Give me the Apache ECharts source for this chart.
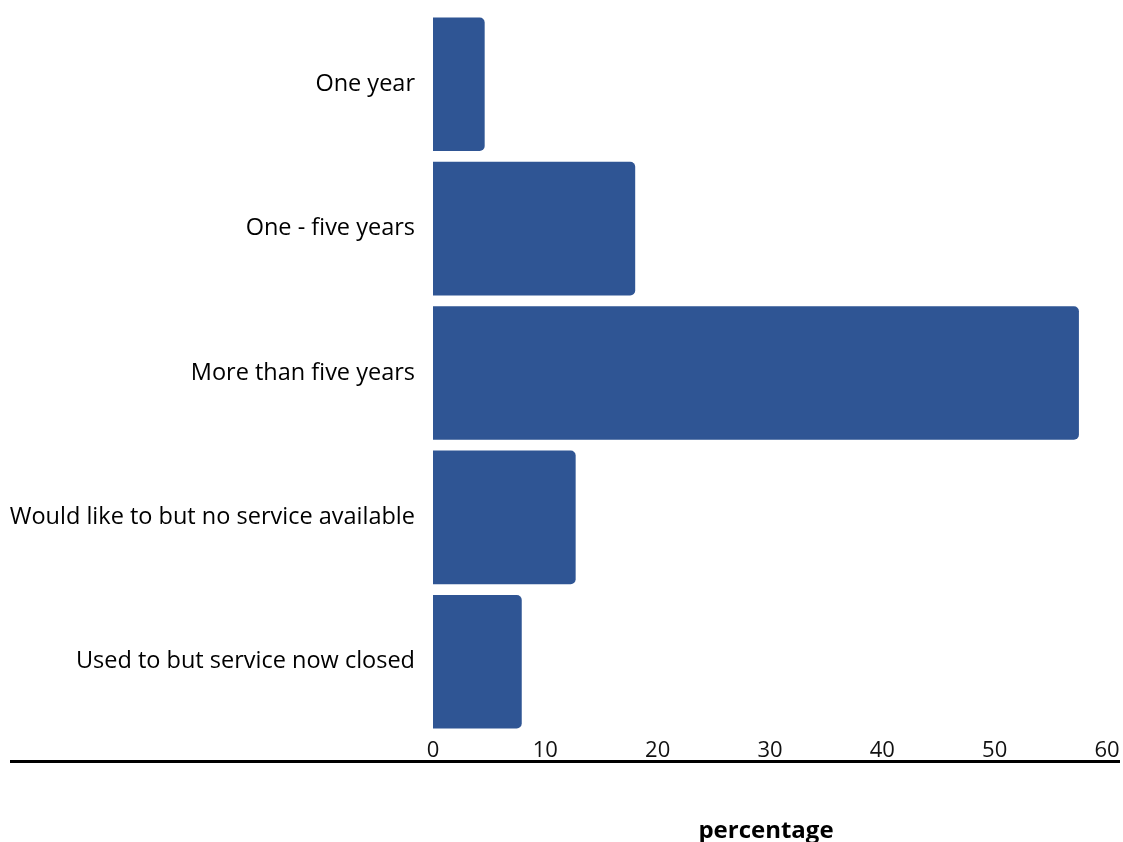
<!DOCTYPE html>
<html>
<head>
<meta charset="utf-8">
<script src="https://cdn.jsdelivr.net/npm/echarts@6/dist/echarts.min.js"></script>
<style>
  html, body { margin: 0; padding: 0; background: #fff; }
  #chart { width: 1123px; height: 842px; }
</style>
</head>
<body>
<div id="chart"></div>
<script>
// How long respondents have used the service
const categories = [
  'One year',
  'One - five years',
  'More than five years',
  'Would like to but no service available',
  'Used to but service now closed'
];
const percentages = [4.6, 18.0, 57.5, 12.7, 7.9];
const axisMax = 60;
const axisStep = 10;

const chart = echarts.init(document.getElementById('chart'));
const fontFamily = '"Open Sans", Lato, sans-serif';

chart.setOption({
  animation: false,
  grid: {
    left: 433, right: 16, top: 12, bottom: 108,
    containLabel: false,
    outerBoundsMode: 'none'
  },
  xAxis: {
    type: 'value',
    min: 0,
    max: axisMax,
    interval: axisStep,
    axisLine: { show: false },
    axisTick: { show: false },
    splitLine: { show: false },
    axisLabel: {
      margin: 6,
      color: '#111',
      fontSize: 22,
      fontFamily: fontFamily
    },
    name: 'percentage',
    nameLocation: 'middle',
    nameGap: 85,
    nameTextStyle: {
      color: '#000',
      fontSize: 24,
      fontWeight: 'bold',
      fontFamily: fontFamily,
      padding: [0, 8, 0, 0]
    }
  },
  yAxis: {
    type: 'category',
    data: categories,
    inverse: true,
    axisLine: { show: false },
    axisTick: { show: false },
    axisLabel: {
      margin: 18,
      color: '#000',
      fontSize: 23.5,
      fontFamily: fontFamily
    }
  },
  series: [{
    type: 'bar',
    data: percentages,
    barCategoryGap: '7.5%',
    itemStyle: {
      color: '#2f5594',
      borderRadius: [0, 5, 5, 0]
    }
  }],
  graphic: [{
    type: 'line',
    shape: { x1: 10, y1: 761.5, x2: 1120, y2: 761.5 },
    style: { stroke: '#000', lineWidth: 3 }
  }]
});
</script>
</body>
</html>
